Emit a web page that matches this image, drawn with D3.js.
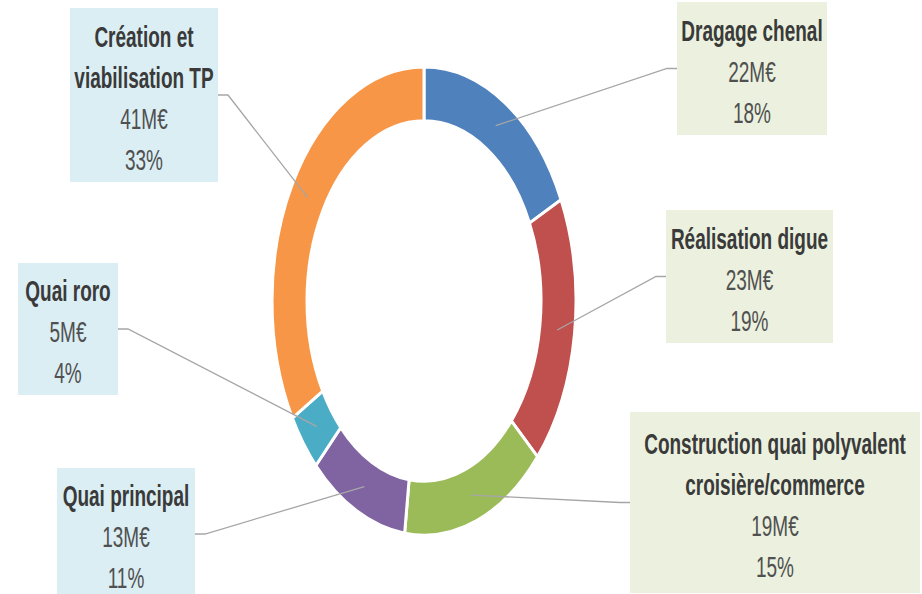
<!DOCTYPE html>
<html lang="fr">
<head>
    <meta charset="UTF-8">
    <title>Répartition des investissements</title>
    <script src="https://d3js.org/d3.v7.min.js"></script>
    <style>
        body {margin: 0; background: #fff;}
        svg {display: block;}
    </style>
</head>
<body>
<script>
    const width = 922;
    const height = 594;

    // data (M€), clockwise from 12 o'clock
    const categories = ["Dragage chenal", "Réalisation digue",
        "Construction quai polyvalent\ncroisière/commerce", "Quai principal",
        "Quai roro", "Création et\nviabilisation TP"];
    const values = [22, 23, 19, 13, 5, 41];
    const colors = ["#4f81bd", "#c0504d", "#9bbb59", "#8064a2", "#4bacc6", "#f79646"];

    // label boxes, in screen pixels
    const boxes = [
        {x: 677, y: 2,   w: 150, h: 133, side: "left",  fill: "#ebf1de"},
        {x: 666, y: 210, w: 167, h: 133, side: "left",  fill: "#ebf1de"},
        {x: 630, y: 412, w: 290, h: 181, side: "left",  fill: "#ebf1de"},
        {x: 57,  y: 468, w: 138, h: 132, side: "right", fill: "#dbeef4"},
        {x: 18,  y: 263, w: 100, h: 132, side: "right", fill: "#dbeef4"},
        {x: 70,  y: 8,   w: 148, h: 174, side: "right", fill: "#dbeef4"}
    ];

    // the picture is stretched vertically, so draw round and scale y
    const k = 1.54;
    const cx = 424, cy = 301 / k;
    const outerR = 152, innerR = 117;
    const lineStep = 41 / k;

    const svg = d3.select("body").append("svg")
            .attr("width", width).attr("height", height);

    const g = svg.append("g").attr("transform", `scale(1,${k})`);

    const total = d3.sum(values);
    const pct = d3.format(".0%");

    const pie = d3.pie().sort(null).value(d => d)(values);
    const arc = d3.arc().innerRadius(innerR).outerRadius(outerR);
    const midArc = d3.arc().innerRadius((innerR + outerR) / 2).outerRadius((innerR + outerR) / 2);

    const donut = g.append("g").attr("transform", `translate(${cx},${cy})`);

    donut.selectAll("path.slice")
            .data(pie)
            .enter()
            .append("path")
            .attr("class", "slice")
            .attr("d", arc)
            .style("fill", (d, i) => colors[i])
            .style("stroke", "white")
            .style("stroke-width", 3)
            .attr("vector-effect", "non-scaling-stroke");

    // leader lines
    const leaders = g.append("g");
    pie.forEach((d, i) => {
        const b = boxes[i];
        const c = midArc.centroid(d);
        const tx = cx + c[0], ty = cy + c[1];
        const ay = (b.y + b.h / 2) / k;
        const ax = b.side === "left" ? b.x : b.x + b.w;
        const bx = b.side === "left" ? ax - 10 : ax + 10;
        leaders.append("path")
                .attr("d", `M${ax},${ay}L${bx},${ay}L${tx},${ty}`)
                .style("fill", "none")
                .style("stroke", "#a6a6a6")
                .style("stroke-width", 1.3)
                .attr("vector-effect", "non-scaling-stroke");
    });

    // label boxes with text
    const labels = g.selectAll("g.label")
            .data(pie)
            .enter()
            .append("g")
            .attr("class", "label");

    labels.append("rect")
            .attr("x", (d, i) => boxes[i].x)
            .attr("y", (d, i) => boxes[i].y / k)
            .attr("width", (d, i) => boxes[i].w)
            .attr("height", (d, i) => boxes[i].h / k)
            .style("fill", (d, i) => boxes[i].fill);

    labels.each(function(d, i) {
        const b = boxes[i];
        const lines = categories[i].split("\n").map(t => ({t: t, bold: true}));
        lines.push({t: values[i] + "M€", bold: false});
        lines.push({t: pct(values[i] / total), bold: false});
        const mid = (b.y + b.h / 2 + 3) / k;
        d3.select(this).selectAll("text")
                .data(lines)
                .enter()
                .append("text")
                .attr("x", b.x + b.w / 2)
                .attr("y", (l, j) => mid + (j - (lines.length - 1) / 2) * lineStep)
                .attr("dy", "0.35em")
                .attr("text-anchor", "middle")
                .style("font-family", "'Liberation Sans', Arial, sans-serif")
                .style("font-size", "19px")
                .style("font-weight", l => l.bold ? "bold" : "normal")
                .style("fill", l => l.bold ? "#3a3a3a" : "#505050")
                .text(l => l.t);
    });
</script>

</body>
</html>
